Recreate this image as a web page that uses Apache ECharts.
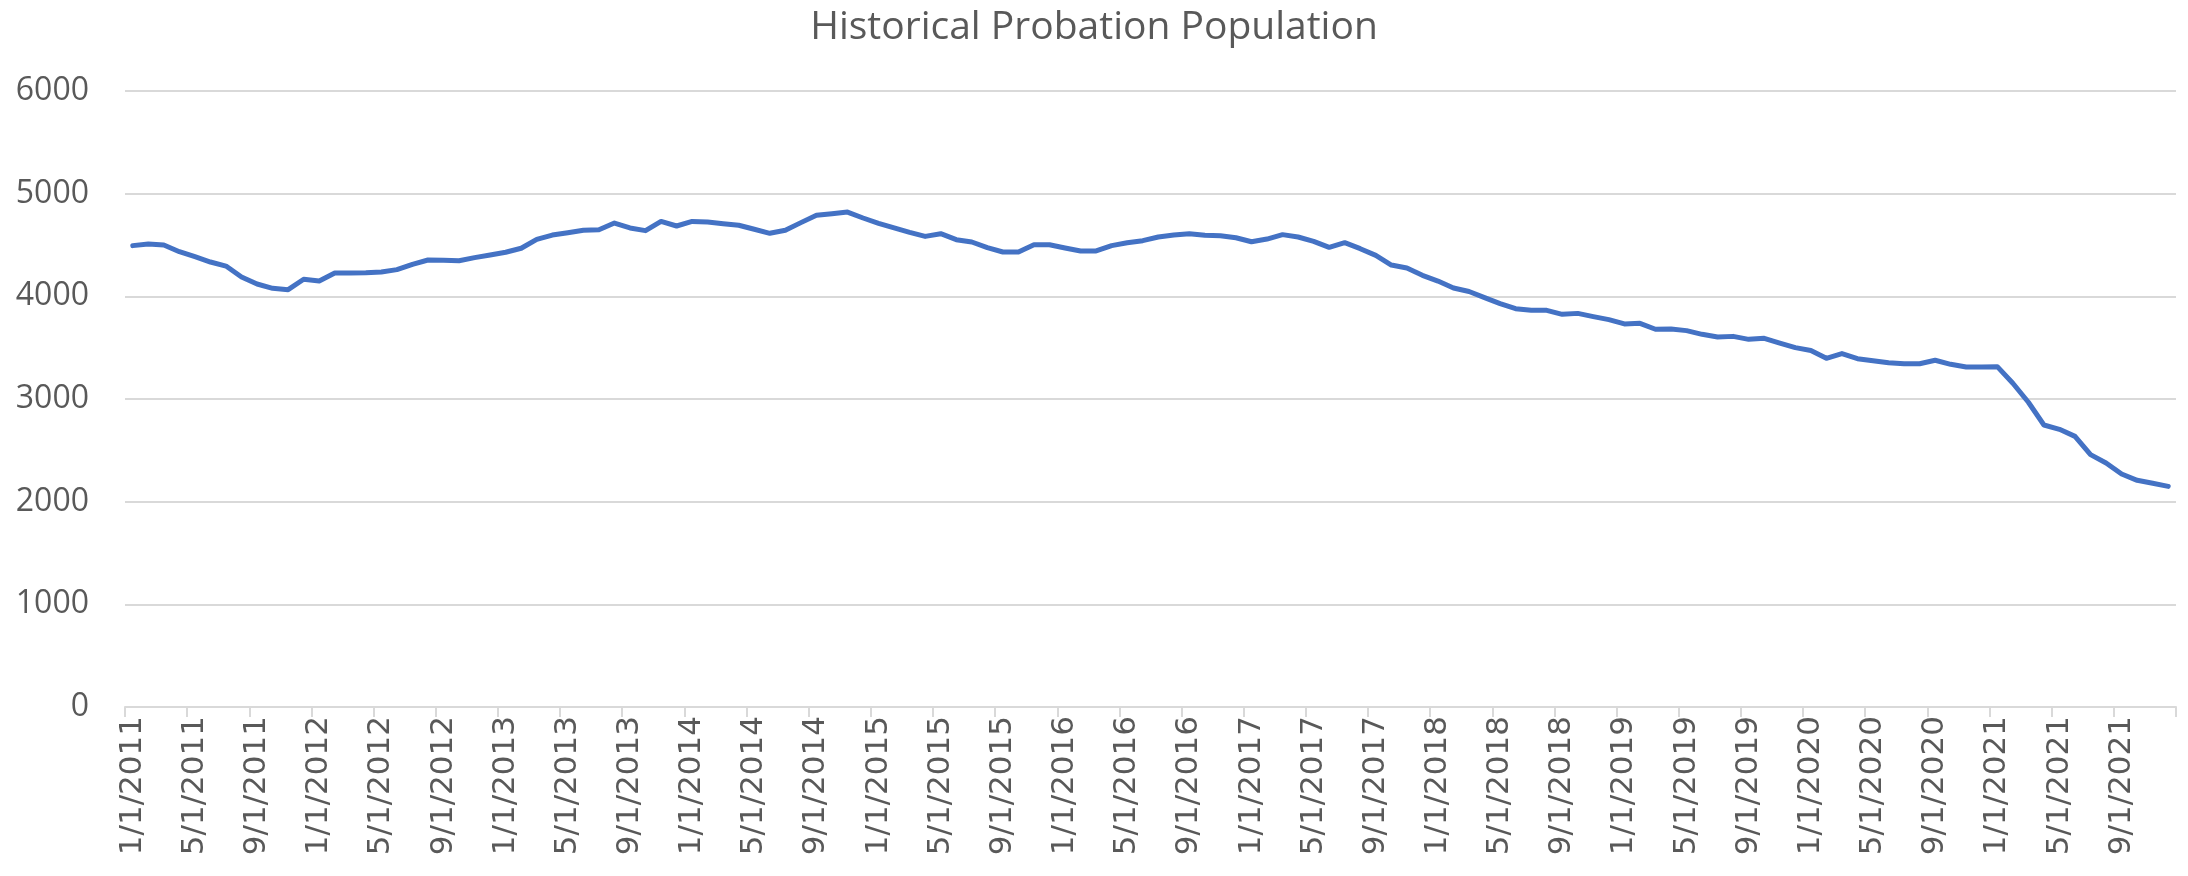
<!DOCTYPE html>
<html>
<head>
<meta charset="utf-8">
<title>Historical Probation Population</title>
<script src="https://cdn.jsdelivr.net/npm/echarts@6/dist/echarts.min.js"></script>
<style>
  html, body { margin: 0; padding: 0; background: #fff; }
  #chart { width: 2188px; height: 876px; }
</style>
</head>
<body>
<div id="chart"></div>
<script>
// monthly population, one array per year (Jan..Dec)
var years = [2011, 2012, 2013, 2014, 2015, 2016, 2017, 2018, 2019, 2020, 2021];
var months = [1, 2, 3, 4, 5, 6, 7, 8, 9, 10, 11, 12];
var pop2011 = [4494, 4510, 4500, 4435, 4386, 4334, 4295, 4188, 4120, 4078, 4065, 4166];
var pop2012 = [4149, 4227, 4227, 4230, 4237, 4260, 4312, 4354, 4352, 4346, 4377, 4403];
var pop2013 = [4429, 4468, 4555, 4597, 4620, 4643, 4649, 4714, 4666, 4640, 4730, 4685];
var pop2014 = [4730, 4724, 4708, 4692, 4653, 4614, 4643, 4718, 4789, 4805, 4821, 4763];
var pop2015 = [4711, 4666, 4623, 4584, 4610, 4552, 4529, 4474, 4432, 4432, 4503, 4503];
var pop2016 = [4471, 4442, 4442, 4494, 4522, 4542, 4578, 4597, 4610, 4594, 4591, 4571];
var pop2017 = [4532, 4558, 4601, 4578, 4536, 4477, 4523, 4464, 4399, 4305, 4276, 4205];
var pop2018 = [4149, 4081, 4047, 3987, 3929, 3880, 3864, 3864, 3825, 3834, 3802, 3773];
var pop2019 = [3731, 3737, 3679, 3682, 3666, 3630, 3604, 3610, 3581, 3591, 3545, 3500];
var pop2020 = [3472, 3396, 3442, 3393, 3373, 3354, 3344, 3344, 3377, 3338, 3312, 3312];
var pop2021 = [3315, 3153, 2968, 2747, 2705, 2636, 2458, 2377, 2269, 2208, 2179, 2149];
var yTicks = [0, 1000, 2000, 3000, 4000, 5000, 6000];

var byYear = [pop2011, pop2012, pop2013, pop2014, pop2015, pop2016,
              pop2017, pop2018, pop2019, pop2020, pop2021];
var categories = [];
var values = [];
for (var y = 0; y < years.length; y++) {
  for (var m = 0; m < months.length; m++) {
    categories.push(months[m] + '/1/' + years[y]);
    values.push(byYear[y][m]);
  }
}

var gray = '#d9d9d9';
var textGray = '#595959';
var chart = echarts.init(document.getElementById('chart'));
chart.setOption({
  animation: false,
  backgroundColor: '#fff',
  title: {
    text: 'Historical Probation Population',
    left: 'center',
    top: 3,
    textStyle: {
      color: textGray,
      fontFamily: 'Open Sans',
      fontWeight: 'normal',
      fontSize: 39
    }
  },
  grid: {
    left: 125,
    right: 12,
    top: 91,
    bottom: 169,
    containLabel: false,
    outerBoundsMode: 'none'
  },
  xAxis: {
    type: 'category',
    data: categories,
    boundaryGap: true,
    axisLine: { lineStyle: { color: gray, width: 2 } },
    axisTick: { show: true, interval: 3, length: 10, lineStyle: { color: gray, width: 2 } },
    axisLabel: {
      interval: 3,
      rotate: 90,
      margin: 9,
      color: textGray,
      fontFamily: 'DejaVu Sans',
      fontSize: 31
    },
    splitLine: { show: false }
  },
  yAxis: {
    type: 'value',
    min: yTicks[0],
    max: yTicks[yTicks.length - 1],
    interval: yTicks[1] - yTicks[0],
    axisLine: { show: false },
    axisTick: { show: false },
    axisLabel: {
      margin: 36,
      color: textGray,
      fontFamily: 'Open Sans',
      fontSize: 32,
      formatter: function (v) { return String(v); }
    },
    splitLine: { lineStyle: { color: gray, width: 2 } }
  },
  series: [{
    name: 'Probation Population',
    type: 'line',
    data: values,
    symbol: 'none',
    smooth: false,
    lineStyle: { color: '#4472c4', width: 5, join: 'round', cap: 'round' }
  }]
});
</script>
</body>
</html>
